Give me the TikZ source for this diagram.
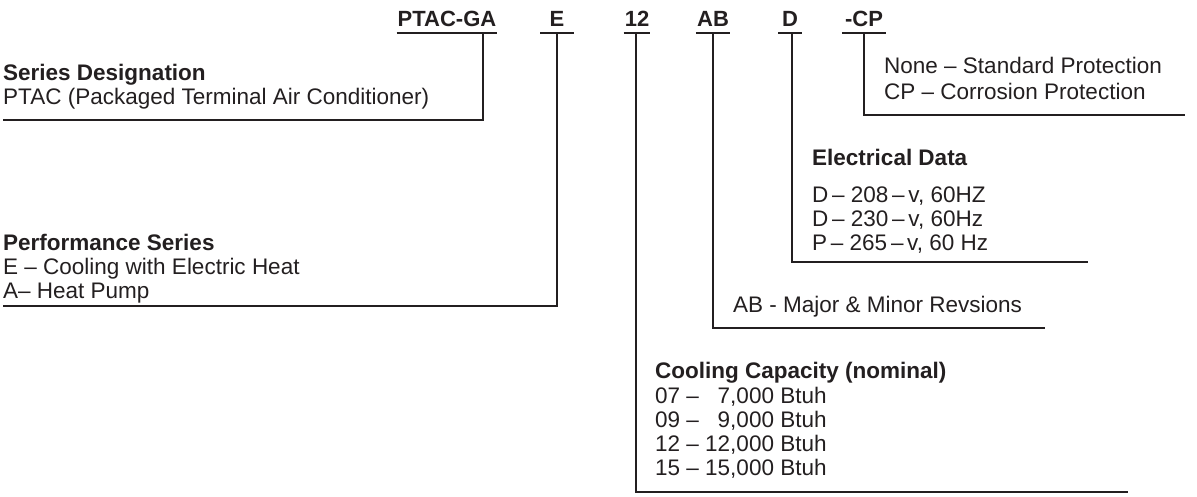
\documentclass[tikz,border=0pt]{standalone}
\usepackage{fontspec}
\setmainfont{Liberation Sans}
\usetikzlibrary{positioning,calc}
\definecolor{ink}{HTML}{231F20}
\tikzset{
  code/.style={font=\fontsize{22}{24}\selectfont\bfseries, anchor=base,
               inner xsep=1pt, inner ysep=7pt, text depth=0pt, text=ink},
  desc/.style={font=\fontsize{22.5}{24}\selectfont, anchor=north west,
               inner sep=0pt, align=left, text=ink},
  lead/.style={line width=1.8pt, draw=ink},
}

\begin{document}
\begin{tikzpicture}[x=1pt, y=-1pt]
  \useasboundingbox (0,0) rectangle (1197,496);

  \node[code] (ptac) at (447,26) {PTAC-GA};
  \node[code, minimum width=33pt] (perf) at (557,26) {E};
  \node[code] (cap) at (637,26) {12};
  \node[code] (rev) at (713,26) {AB};
  \node[code, minimum width=23pt] (volt) at (790,26) {D};
  \node[code, minimum width=44pt] (prot) at (864,26) {-CP};

  \node[desc] (ptactext) at (3,64)
    {\textbf{Series Designation}\\PTAC (Packaged Terminal Air Conditioner)};
  \node[desc] (perftext) at (3,234)
    {\textbf{Performance Series}\\E – Cooling with Electric Heat\\A– Heat Pump};
  \node[desc] (prottext) at (884,57)
    {None – Standard Protection\\[2pt]CP – Corrosion Protection};
  \node[desc] (volttext) at (812,149)
    {\textbf{Electrical Data}\\[13pt]D\,–\ 208\,–\,v, 60HZ\\D\,–\ 230\,–\,v, 60Hz\\P\,–\ 265\,–\,v, 60 Hz};
  \node[desc] (revtext) at (733,296) {AB - Major \& Minor Revsions};
  \node[desc] (captext) at (655,362)
    {\textbf{Cooling Capacity (nominal)}\\[1pt]07 – \phantom{1}7,000 Btuh\\09 – \phantom{1}9,000 Btuh\\12 – 12,000 Btuh\\15 – 15,000 Btuh};

  \coordinate (ptacturn) at (483,120);
  \coordinate (ptacend) at (3,120);
  \coordinate (perfturn) at (557,306);
  \coordinate (perfend) at (3,306);
  \coordinate (capturn) at (636,492);
  \coordinate (capend) at (1128,492);
  \coordinate (revturn) at (713,328);
  \coordinate (revend) at (1045,328);
  \coordinate (voltturn) at (792,262);
  \coordinate (voltend) at (1088,262);
  \coordinate (protturn) at (864,115);
  \coordinate (protend) at (1185,115);

  \draw[lead] (ptac.south west) -- (ptac.south east)
    (ptac.south -| ptacturn) -- (ptacturn) -- (ptacend);
  \draw[lead] (perf.south west) -- (perf.south east)
    (perf.south -| perfturn) -- (perfturn) -- (perfend);
  \draw[lead] (cap.south west) -- (cap.south east)
    (cap.south -| capturn) -- (capturn) -- (capend);
  \draw[lead] (rev.south west) -- (rev.south east)
    (rev.south -| revturn) -- (revturn) -- (revend);
  \draw[lead] (volt.south west) -- (volt.south east)
    (volt.south -| voltturn) -- (voltturn) -- (voltend);
  \draw[lead] (prot.south west) -- (prot.south east)
    (prot.south -| protturn) -- (protturn) -- (protend);
\end{tikzpicture}
\end{document}
